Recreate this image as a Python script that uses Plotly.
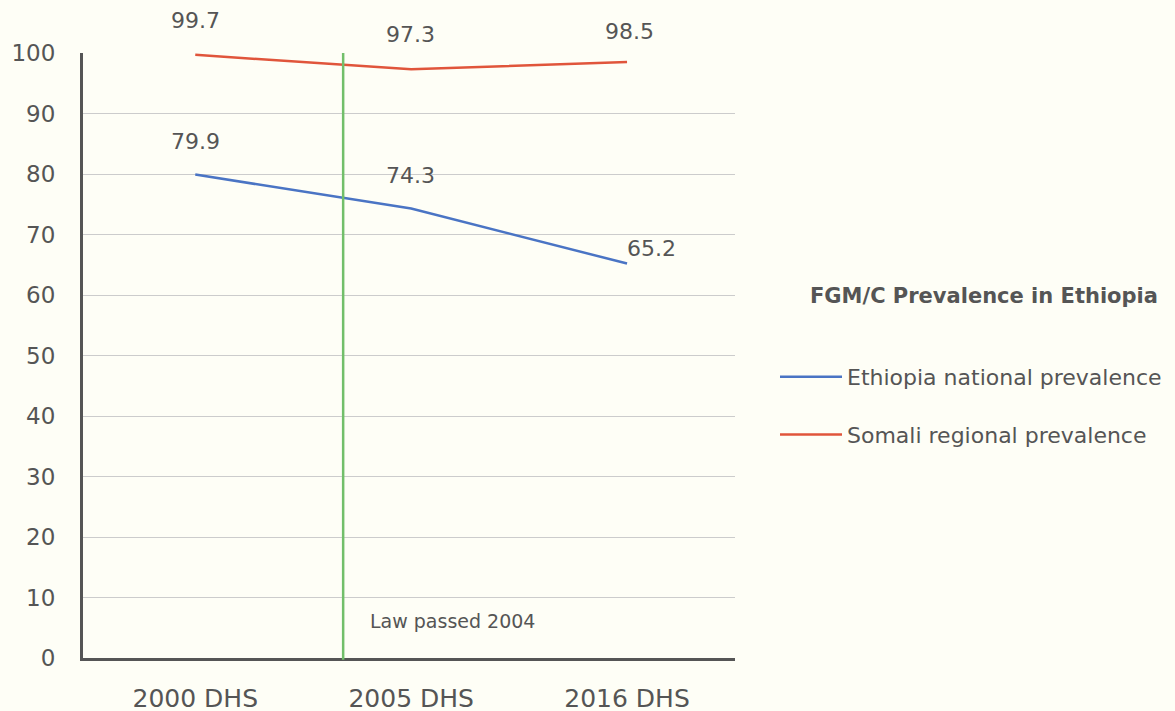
import plotly.graph_objects as go

categories = ["2000 DHS", "2005 DHS", "2016 DHS"]
national = [79.9, 74.3, 65.2]
somali = [99.7, 97.3, 98.5]
law_position = 0.685
law_label = "Law passed 2004"
legend_title = "FGM/C Prevalence in Ethiopia"

FONT = "DejaVu Sans"
TXT = "#555555"
BG = "#fefef6"
BLUE = "#4a74c4"
RED = "#e0553b"
GREEN = "#72bf6a"

xs = list(range(len(categories)))

fig = go.Figure()
fig.add_trace(go.Scatter(x=xs, y=national, mode="lines", name="Ethiopia national prevalence",
                         line=dict(color=BLUE, width=2.5), legendgroup="a", cliponaxis=False))
fig.add_trace(go.Scatter(x=xs, y=somali, mode="lines", name="Somali regional prevalence",
                         line=dict(color=RED, width=2.5), legendgroup="b", cliponaxis=False))

# data labels
nat_offsets = [(0, 33), (-1, 33), (24, 15)]
som_offsets = [(0, 34), (-1, 35), (2, 31)]
for i, v in enumerate(national):
    dx, dy = nat_offsets[i]
    fig.add_annotation(x=xs[i], y=v, text=f"{v}", showarrow=False, xshift=dx, yshift=dy,
                       font=dict(size=22, color=TXT, family=FONT))
for i, v in enumerate(somali):
    dx, dy = som_offsets[i]
    fig.add_annotation(x=xs[i], y=v, text=f"{v}", showarrow=False, xshift=dx, yshift=dy,
                       font=dict(size=22, color=TXT, family=FONT))

fig.add_shape(type="line", x0=law_position, x1=law_position, xref="x", yref="paper", y0=-0.003, y1=1,
              line=dict(color=GREEN, width=2.5))
fig.add_annotation(x=law_position, y=6.1, text=law_label, showarrow=False, xanchor="left",
                   xshift=25, font=dict(size=19, color=TXT, family=FONT))

fig.add_annotation(xref="paper", yref="paper", x=(811 - 3 - 83) / 652, y=(658 - 296) / 605,
                   text=f"<b>{legend_title}</b>", showarrow=False, xanchor="left", yanchor="middle",
                   font=dict(size=21, color=TXT, family=FONT))

fig.update_layout(
    width=1175, height=711,
    paper_bgcolor=BG, plot_bgcolor=BG,
    margin=dict(l=75, r=448, t=45, b=61, autoexpand=False),
    font=dict(family=FONT, color=TXT, size=20),
    showlegend=True,
    legend=dict(x=(781 - 83 - 6) / 652, xanchor="left", y=(658 - 356) / 605, yanchor="top",
                font=dict(size=22, color=TXT, family=FONT), tracegroupgap=26,
                itemwidth=62, bgcolor="rgba(0,0,0,0)"),
    xaxis=dict(range=[-0.52, 2.5], tickvals=xs, ticktext=categories, showgrid=False,
               zeroline=False, showline=True, linecolor="#555555", linewidth=3, automargin=False,
               ticks="", ticklabelstandoff=16, tickfont=dict(size=25, color=TXT)),
    yaxis=dict(range=[0, 100], dtick=10, showgrid=True, gridcolor="#cccccc", gridwidth=1,
               zeroline=False, showline=True, linecolor="#555555", linewidth=3, automargin=False,
               ticks="", ticklabelstandoff=20, tickfont=dict(size=23, color=TXT)),
)

fig.write_html(
    "out.html",
    post_script="document.body.style.backgroundColor='#fefef6';"
                "document.documentElement.style.backgroundColor='#fefef6';",
)
